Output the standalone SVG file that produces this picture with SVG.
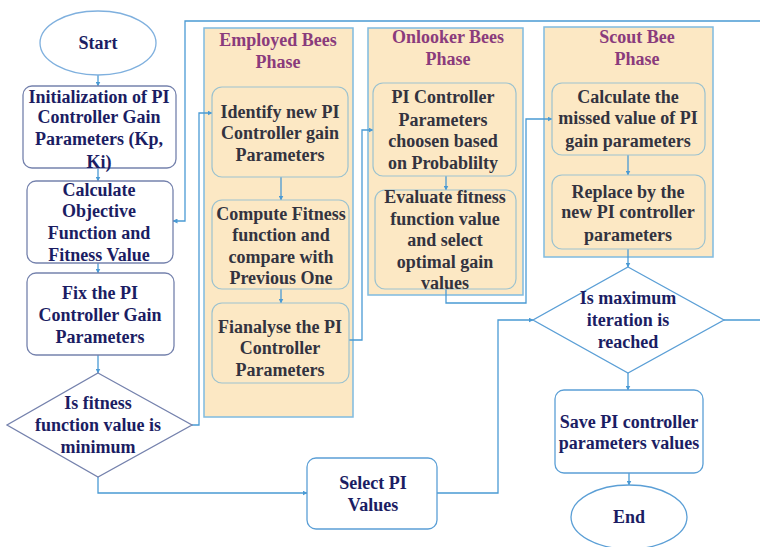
<svg xmlns="http://www.w3.org/2000/svg" width="760" height="547" viewBox="0 0 760 547">
<defs>
<marker id="arr" viewBox="0 0 10 10" refX="9" refY="5" markerWidth="5" markerHeight="5" orient="auto" markerUnits="userSpaceOnUse"><path d="M0,0 L10,5 L0,10 z" fill="#4a9ad4"/></marker>
<style>
text{font-family:"Liberation Serif","Times New Roman",serif;font-weight:bold;font-size:18px;text-anchor:middle}
.t1{fill:#1b1d63}
.t2{fill:#33333f}
.tt{fill:#8a3b7c}
.lb{fill:#fff;stroke:#7582ad;stroke-width:1.3}
.bb{fill:#fff;stroke:#5b9fd6;stroke-width:1.3}
.pan{fill:#fce8c4;stroke:#7fbbe0;stroke-width:1.5}
.ib{fill:#fce8c4;stroke:#9cc2cf;stroke-width:1.2}
.c{fill:none;stroke:#4a9ad4;stroke-width:1.3}
</style>
</defs>
<g id="panel-employed"><rect class="pan" x="204" y="28" width="149" height="389"/><text class="tt" x="278" y="46">Employed Bees</text><text class="tt" x="278" y="68">Phase</text></g>
<g id="panel-onlooker"><rect class="pan" x="368" y="28" width="155" height="267"/><text class="tt" x="448" y="43">Onlooker Bees</text><text class="tt" x="448" y="65">Phase</text></g>
<g id="panel-scout"><rect class="pan" x="544" y="27" width="169" height="230"/><text class="tt" x="637" y="43">Scout Bee</text><text class="tt" x="637" y="65">Phase</text></g>
<g id="connectors">
<path class="c" d="M98,75 V86" marker-end="url(#arr)"/>
<path class="c" d="M98,168 V181" marker-end="url(#arr)"/>
<path class="c" d="M98,263 V273" marker-end="url(#arr)"/>
<path class="c" d="M98,355 V373" marker-end="url(#arr)"/>
<path class="c" d="M98,477 V493 H307" marker-end="url(#arr)"/>
<path class="c" d="M192,425 H199 V113 H212" marker-end="url(#arr)"/>
<path class="c" d="M281,177 V200" marker-end="url(#arr)"/>
<path class="c" d="M281,289 V303" marker-end="url(#arr)"/>
<path class="c" d="M349,340 H362 V130 H373" marker-end="url(#arr)"/>
<path class="c" d="M446,176 V190" marker-end="url(#arr)"/>
<path class="c" d="M446,289 V303 H526 V119 H552" marker-end="url(#arr)"/>
<path class="c" d="M628,155 V175" marker-end="url(#arr)"/>
<path class="c" d="M628,249 V267" marker-end="url(#arr)"/>
<path class="c" d="M437,493 H498 V320 H533" marker-end="url(#arr)"/>
<path class="c" d="M628,373 V390" marker-end="url(#arr)"/>
<path class="c" d="M629,473 V485" marker-end="url(#arr)"/>
<path class="c" d="M724,320 H762 V21 H185 V221 H173" marker-end="url(#arr)"/>
</g>
<g id="start"><ellipse class="bb" cx="98" cy="43" rx="58" ry="32" style="stroke:#7fb0de"/><text class="t1" x="98" y="49">Start</text></g>
<g id="init"><rect class="lb" x="23" y="86" width="153" height="82" rx="9"/><text class="t1" x="99" y="103">Initialization of PI</text><text class="t1" x="99" y="123">Controller Gain</text><text class="t1" x="99" y="145">Parameters (Kp,</text><text class="t1" x="99" y="168">Ki)</text></g>
<g id="calc"><rect class="lb" x="27" y="181" width="146" height="82" rx="9"/><text class="t1" x="99" y="196">Calculate</text><text class="t1" x="99" y="217">Objective</text><text class="t1" x="99" y="239">Function and</text><text class="t1" x="99" y="261">Fitness Value</text></g>
<g id="fix"><rect class="lb" x="27" y="273" width="147" height="82" rx="9"/><text class="t1" x="100" y="299">Fix the PI</text><text class="t1" x="100" y="321">Controller Gain</text><text class="t1" x="100" y="343">Parameters</text></g>
<g id="dec-fitness"><polygon class="lb" points="98,373 192,425 98,477 7,425"/><text class="t1" x="98" y="409">Is fitness</text><text class="t1" x="98" y="431">function value is</text><text class="t1" x="98" y="453">minimum</text></g>
<g id="identify"><rect class="ib" x="212" y="87" width="136" height="90" rx="10"/><text class="t2" x="280" y="118">Identify new PI</text><text class="t2" x="280" y="139">Controller gain</text><text class="t2" x="280" y="161">Parameters</text></g>
<g id="compute"><rect class="ib" x="212" y="200" width="137" height="89" rx="10"/><text class="t2" x="281" y="220">Compute Fitness</text><text class="t2" x="281" y="241">function and</text><text class="t2" x="281" y="263">compare with</text><text class="t2" x="281" y="284">Previous One</text></g>
<g id="finalyse"><rect class="ib" x="212" y="303" width="137" height="80" rx="10"/><text class="t2" x="280" y="333">Fianalyse the PI</text><text class="t2" x="280" y="354">Controller</text><text class="t2" x="280" y="376">Parameters</text></g>
<g id="pi-prob"><rect class="ib" x="373" y="83" width="143" height="93" rx="10"/><text class="t2" x="443" y="103">PI Controller</text><text class="t2" x="443" y="126">Parameters</text><text class="t2" x="443" y="147">choosen based</text><text class="t2" x="443" y="169">on Probablilty</text></g>
<g id="evaluate"><rect class="ib" x="375" y="190" width="141" height="99" rx="10"/><text class="t2" x="445" y="203">Evaluate fitness</text><text class="t2" x="445" y="225">function value</text><text class="t2" x="445" y="246">and select</text><text class="t2" x="445" y="268">optimal gain</text><text class="t2" x="445" y="289">values</text></g>
<g id="missed"><rect class="ib" x="552" y="83" width="153" height="72" rx="10"/><text class="t2" x="628" y="103">Calculate the</text><text class="t2" x="628" y="124">missed value of PI</text><text class="t2" x="628" y="147">gain parameters</text></g>
<g id="replace"><rect class="ib" x="552" y="175" width="153" height="74" rx="10"/><text class="t2" x="628" y="198">Replace by the</text><text class="t2" x="628" y="218">new PI controller</text><text class="t2" x="628" y="241">parameters</text></g>
<g id="dec-iter"><polygon class="bb" points="628,267 724,320 628,373 533,320"/><text class="t1" x="628" y="304">Is maximum</text><text class="t1" x="628" y="326">iteration is</text><text class="t1" x="628" y="348">reached</text></g>
<g id="select"><rect class="bb" x="307" y="458" width="130" height="71" rx="9"/><text class="t1" x="373" y="489">Select PI</text><text class="t1" x="373" y="511">Values</text></g>
<g id="save"><rect class="bb" x="555" y="390" width="148" height="83" rx="9"/><text class="t1" x="629" y="428">Save PI controller</text><text class="t1" x="629" y="449">parameters values</text></g>
<g id="end"><ellipse class="bb" cx="629" cy="517" rx="58" ry="32"/><text class="t1" x="629" y="523">End</text></g>
</svg>
